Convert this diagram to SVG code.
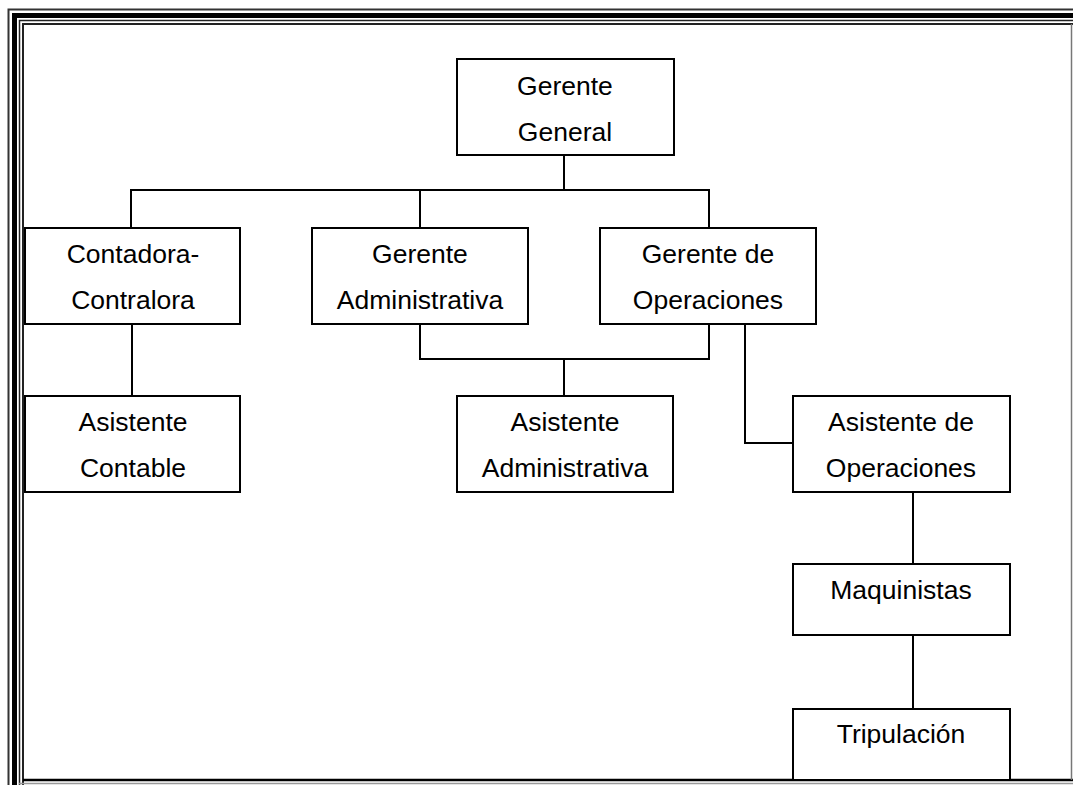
<svg xmlns="http://www.w3.org/2000/svg" width="1073" height="785" viewBox="0 0 1073 785">
<style>
.box{fill:#fff;stroke:#000;stroke-width:2}
.lbl{font-family:"Liberation Sans",Arial,sans-serif;font-size:26.5px;fill:#000;text-anchor:middle}
.con{fill:none;stroke:#000;stroke-width:2}
</style>
<rect width="1073" height="785" fill="#fff"/>
<g id="frame" fill="none">
<path d="M8.5,785 V9.5 H1073" stroke="#333" stroke-width="2"/>
<path d="M14.5,785 V15.5 H1073" stroke="#000" stroke-width="5"/>
<path d="M19.5,785 V20.5 H1073" stroke="#222" stroke-width="1.5"/>
<path d="M23,785 V24 H1073" stroke="#222" stroke-width="2"/>
<path d="M23,780 H1073" stroke="#000" stroke-width="2.5"/>
<path d="M1071.5,24 V780" stroke="#777" stroke-width="1.5"/>
<path d="M19,783.5 H1073" stroke="#999" stroke-width="1.5"/>
</g>
<g id="connectors">
<path class="con" d="M564,155 V190 M131,228 V190 H709 V228 M420,190 V228"/>
<path class="con" d="M132,324 V396"/>
<path class="con" d="M420,324 V359 H709 V324 M564,359 V396"/>
<path class="con" d="M745,324 V443 H793"/>
<path class="con" d="M913,492 V564"/>
<path class="con" d="M913,635 V709"/>
</g>
<g id="gerente-general"><rect class="box" x="457" y="59" width="217" height="96"/><text class="lbl" x="565" y="95">Gerente</text><text class="lbl" x="565" y="141">General</text></g>
<g id="contadora"><rect class="box" x="25" y="228" width="215" height="96"/><text class="lbl" x="133" y="263">Contadora-</text><text class="lbl" x="133" y="309">Contralora</text></g>
<g id="gerente-administrativa"><rect class="box" x="312" y="228" width="216" height="96"/><text class="lbl" x="420" y="263">Gerente</text><text class="lbl" x="420" y="309">Administrativa</text></g>
<g id="gerente-operaciones"><rect class="box" x="600" y="228" width="216" height="96"/><text class="lbl" x="708" y="263">Gerente de</text><text class="lbl" x="708" y="309">Operaciones</text></g>
<g id="asistente-contable"><rect class="box" x="25" y="396" width="215" height="96"/><text class="lbl" x="133" y="431">Asistente</text><text class="lbl" x="133" y="477">Contable</text></g>
<g id="asistente-administrativa"><rect class="box" x="457" y="396" width="216" height="96"/><text class="lbl" x="565" y="431">Asistente</text><text class="lbl" x="565" y="477">Administrativa</text></g>
<g id="asistente-operaciones"><rect class="box" x="793" y="396" width="217" height="96"/><text class="lbl" x="901" y="431">Asistente de</text><text class="lbl" x="901" y="477">Operaciones</text></g>
<g id="maquinistas"><rect class="box" x="793" y="564" width="217" height="71"/><text class="lbl" x="901" y="599">Maquinistas</text></g>
<g id="tripulacion"><rect class="box" x="793" y="709" width="217" height="71"/><text class="lbl" x="901" y="743">Tripulación</text></g>
</svg>
